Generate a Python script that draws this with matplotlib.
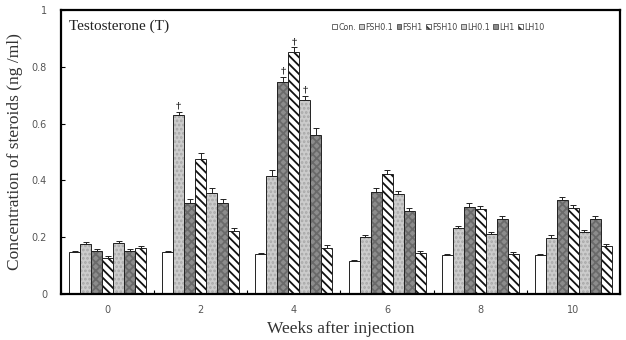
import matplotlib
matplotlib.use("Agg")
import matplotlib.pyplot as plt
from matplotlib.patches import Patch
import numpy as np

weeks = ["0", "2", "4", "6", "8", "10"]
series = ["Con.", "FSH0.1", "FSH1", "FSH10", "LH0.1", "LH1", "LH10"]
con    = [0.147, 0.147, 0.141, 0.115, 0.137, 0.137]
fsh01  = [0.176, 0.630, 0.417, 0.200, 0.231, 0.198]
fsh1   = [0.152, 0.321, 0.745, 0.358, 0.307, 0.331]
fsh10  = [0.128, 0.475, 0.853, 0.422, 0.299, 0.302]
lh01   = [0.178, 0.357, 0.683, 0.351, 0.211, 0.217]
lh1    = [0.151, 0.321, 0.559, 0.292, 0.263, 0.263]
lh10   = [0.161, 0.223, 0.161, 0.143, 0.140, 0.169]
err_con   = [0.004, 0.004, 0.004, 0.004, 0.004, 0.005]
err_fsh01 = [0.008, 0.012, 0.020, 0.008, 0.010, 0.008]
err_fsh1  = [0.006, 0.012, 0.020, 0.015, 0.012, 0.012]
err_fsh10 = [0.006, 0.022, 0.015, 0.016, 0.012, 0.012]
err_lh01  = [0.008, 0.015, 0.015, 0.012, 0.008, 0.010]
err_lh1   = [0.006, 0.012, 0.025, 0.010, 0.010, 0.010]
err_lh10  = [0.008, 0.010, 0.012, 0.008, 0.008, 0.008]
sig = [(1, 1), (2, 2), (2, 3), (2, 4)]  # (week index, series index)

values = [con, fsh01, fsh1, fsh10, lh01, lh1, lh10]
errors = [err_con, err_fsh01, err_fsh1, err_fsh10, err_lh01, err_lh1, err_lh10]
faces = ["white", "#cccccc", "#8c8c8c", "white", "#cccccc", "#8c8c8c", "white"]
hcols = ["white", "#a8a8a8", "#6a6a6a", "#111111", "#a8a8a8", "#6a6a6a", "#111111"]
hatches = [None, "....", "xxxx", "\\\\\\\\", "....", "xxxx", "\\\\\\\\"]

plt.rcParams['hatch.linewidth'] = 1.3
fig = plt.figure(figsize=(6.26, 3.4), dpi=100)
ax = fig.add_axes([61/626, 1 - 294/340, 559/626, 284/340])

x = np.arange(len(weeks))
w = 0.118
handles = []
for i, (v, e) in enumerate(zip(values, errors)):
    pos = x + (i - 3) * w
    ax.bar(pos, v, width=w, color=faces[i], edgecolor=hcols[i], linewidth=0,
           hatch=hatches[i], zorder=2)
    ax.bar(pos, v, width=w, fill=False, edgecolor="#222222", linewidth=0.7, zorder=2.5)
    ax.errorbar(pos, v, yerr=[np.zeros(len(e)), e], fmt="none", ecolor="#222222",
                elinewidth=0.7, capsize=2, capthick=0.7, zorder=3)
    handles.append(Patch(facecolor=faces[i], edgecolor="#333333", linewidth=0.5,
                         hatch=None if hatches[i] is None or i in (1, 4) else "\\\\\\\\" if i in (3, 6) else None,
                         label=series[i]))

for wi, si in sig:
    px = x[wi] + (si - 3) * w
    top = values[si][wi] + errors[si][wi]
    ax.text(px, top + 0.003, "†", ha="center", va="bottom", fontsize=7,
            fontweight="bold", family="DejaVu Serif", color="#222222")

ax.set_xlim(-0.5, len(weeks) - 0.5)
ax.set_ylim(0, 1)
ax.set_yticks([0, 0.2, 0.4, 0.6, 0.8, 1])
ax.set_yticklabels(["0", "0.2", "0.4", "0.6", "0.8", "1"])
ax.set_xticks(x)
ax.set_xticklabels(weeks)
ax.set_xticks(np.arange(-0.5, len(weeks)), minor=True)
ax.tick_params(axis="x", which="major", length=0, pad=8)
ax.tick_params(axis="x", which="minor", direction="in", length=3, width=0.8)
ax.tick_params(axis="y", direction="in", length=3, width=0.8, pad=10)
ax.tick_params(labelsize=7, labelcolor="#555555")
for sp in ax.spines.values():
    sp.set_linewidth(1.6)

ax.set_ylabel("Concentration of steroids (ng /ml)", family="Liberation Serif",
              fontsize=12.5, color="#333333", labelpad=6)
ax.set_xlabel("Weeks after injection", family="Liberation Serif",
              fontsize=12.5, color="#333333", labelpad=4)
ax.text(0.015, 0.965, "Testosterone (T)", transform=ax.transAxes,
        family="Liberation Serif", fontsize=11, va="top", ha="left", color="#222222")

leg = ax.legend(handles=handles, loc="upper left", bbox_to_anchor=(0.475, 0.975),
                ncol=7, fontsize=5.7, frameon=False, handlelength=0.6, handleheight=0.6,
                handletextpad=0.15, columnspacing=0.45, borderpad=0.2)
for t in leg.get_texts():
    t.set_color("#444444")

fig.savefig("out.png", dpi=100)
